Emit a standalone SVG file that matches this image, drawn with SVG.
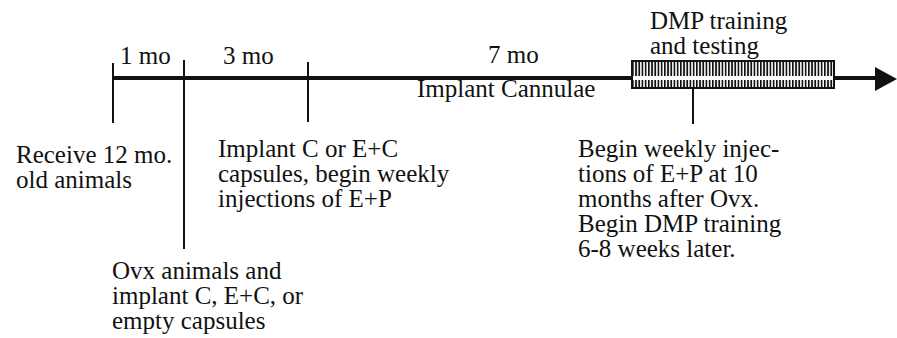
<svg xmlns="http://www.w3.org/2000/svg" width="897" height="338" viewBox="0 0 897 338">
<style>
text{font-family:"Liberation Serif","Times New Roman",serif;font-size:25px;fill:#111}
.tick{stroke:#111;stroke-width:2}
.axis{stroke:#111;stroke-width:4}
</style>
<defs>
<pattern id="hatch" x="632" y="0" width="3.2" height="10" patternUnits="userSpaceOnUse">
<rect x="0" y="0" width="1.7" height="10" fill="#111"/>
</pattern>
</defs>
<rect width="897" height="338" fill="#fff"/>
<g id="connectors">
<line class="axis" x1="113" y1="78" x2="878" y2="78"/>
<polygon points="875,67 897,79 875,91" fill="#111"/>
<line class="tick" x1="113" y1="63" x2="113" y2="123"/>
<line class="tick" x1="184" y1="60" x2="184" y2="249"/>
<line class="tick" x1="308" y1="62" x2="308" y2="122"/>
<line class="tick" x1="693" y1="88" x2="693" y2="124"/>
</g>
<g id="bar">
<rect x="632" y="61" width="202" height="27" fill="#fff" stroke="#111" stroke-width="2"/>
<rect x="633" y="62" width="200" height="14" fill="url(#hatch)"/>
<rect x="633" y="80" width="200" height="7" fill="url(#hatch)"/>
</g>
<g id="labels-top">
<text x="120" y="64">1 mo</text>
<text x="223" y="64">3 mo</text>
<text x="488" y="63">7 mo</text>
<text x="417" y="97">Implant Cannulae</text>
<text x="650" y="29">DMP training</text>
<text x="650" y="54">and testing</text>
</g>
<g id="node-receive">
<text x="16" y="163">Receive 12 mo.</text>
<text x="16" y="188">old animals</text>
</g>
<g id="node-implant">
<text x="218" y="157">Implant C or E+C</text>
<text x="218" y="182">capsules, begin weekly</text>
<text x="218" y="207">injections of E+P</text>
</g>
<g id="node-ovx">
<text x="112" y="279">Ovx animals and</text>
<text x="112" y="304">implant C, E+C, or</text>
<text x="112" y="329">empty capsules</text>
</g>
<g id="node-dmp">
<text x="578" y="157">Begin weekly injec-</text>
<text x="578" y="182">tions of E+P at 10</text>
<text x="578" y="207">months after Ovx.</text>
<text x="578" y="232">Begin DMP training</text>
<text x="578" y="257">6-8 weeks later.</text>
</g>
</svg>
